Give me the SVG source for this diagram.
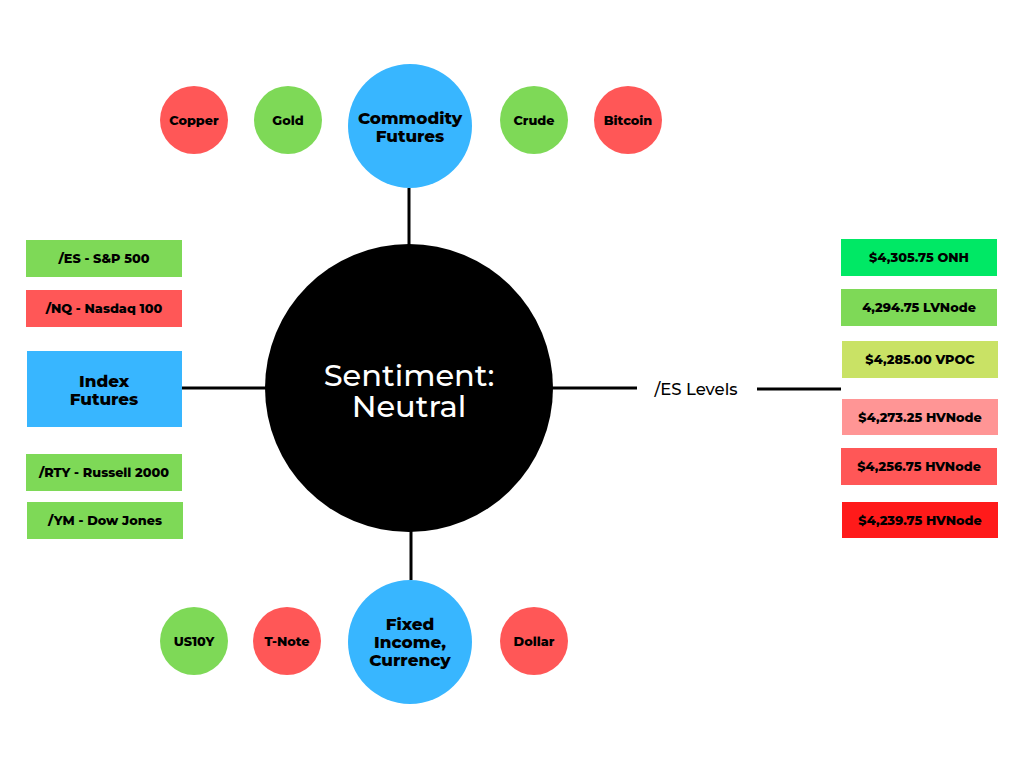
<svg xmlns="http://www.w3.org/2000/svg" width="1024" height="768" viewBox="0 0 1024 768">
<style>
.b{font-family:Montserrat,"Open Sans",sans-serif;font-weight:800;fill:#000;text-anchor:middle}
.s{font-size:12.8px}
.m{font-size:16.8px}
.g{fill:#7ED957}.r{fill:#FF5757}.bl{fill:#38B6FF}
.ln{stroke:#000;stroke-width:3;fill:none}
</style>
<rect width="1024" height="768" fill="#fff"/>
<g id="connectors">
<line class="ln" x1="409" y1="188" x2="409" y2="246"/>
<line class="ln" x1="182" y1="388" x2="266" y2="388"/>
<line class="ln" x1="411" y1="531" x2="411" y2="580"/>
<line class="ln" x1="552" y1="388" x2="637" y2="388"/>
<line class="ln" x1="757" y1="389" x2="841" y2="389"/>
</g>
<g id="center">
<circle cx="409" cy="388" r="144" fill="#000"/>
<text x="409" y="386" font-family="Montserrat,'Open Sans',sans-serif" font-weight="500" font-size="30.5" fill="#fff" text-anchor="middle">Sentiment:</text>
<text x="409" y="417" font-family="Montserrat,'Open Sans',sans-serif" font-weight="500" font-size="30.5" fill="#fff" text-anchor="middle">Neutral</text>
</g>
<g id="commodity">
<circle class="bl" cx="410" cy="126" r="62"/>
<text class="b m" x="410" y="124">Commodity</text>
<text class="b m" x="410" y="142">Futures</text>
</g>
<g id="copper"><circle class="r" cx="194" cy="120" r="34"/><text class="b s" x="194" y="124.5">Copper</text></g>
<g id="gold"><circle class="g" cx="288" cy="120" r="34"/><text class="b s" x="288" y="124.5">Gold</text></g>
<g id="crude"><circle class="g" cx="534" cy="120" r="34"/><text class="b s" x="534" y="124.5">Crude</text></g>
<g id="bitcoin"><circle class="r" cx="628" cy="120" r="34"/><text class="b s" x="628" y="124.5">Bitcoin</text></g>
<g id="index">
<rect class="bl" x="27" y="351" width="155" height="76"/>
<text class="b m" x="104" y="387">Index</text>
<text class="b m" x="104" y="405">Futures</text>
</g>
<g id="es"><rect class="g" x="26" y="240" width="156" height="37"/><text class="b s" x="104" y="263">/ES - S&amp;P 500</text></g>
<g id="nq"><rect class="r" x="26" y="290" width="156" height="37"/><text class="b s" x="104" y="313">/NQ - Nasdaq 100</text></g>
<g id="rty"><rect class="g" x="26" y="454" width="156" height="37"/><text class="b s" x="104" y="477">/RTY - Russell 2000</text></g>
<g id="ym"><rect class="g" x="27" y="502" width="156" height="37"/><text class="b s" x="105" y="525">/YM - Dow Jones</text></g>
<g id="eslevels"><text x="696" y="395" font-family="Montserrat,'Open Sans',sans-serif" font-weight="500" font-size="16.5" text-anchor="middle" fill="#000">/ES Levels</text></g>
<g id="onh"><rect x="841" y="239" width="156" height="37" fill="#00E865"/><text class="b s" x="919" y="262">$4,305.75 ONH</text></g>
<g id="lvnode"><rect class="g" x="841" y="289" width="156" height="37"/><text class="b s" x="919" y="312">4,294.75 LVNode</text></g>
<g id="vpoc"><rect x="842" y="341" width="156" height="37" fill="#C9E265"/><text class="b s" x="920" y="364">$4,285.00 VPOC</text></g>
<g id="hv1"><rect x="842" y="399" width="156" height="36" fill="#FF9595"/><text class="b s" x="920" y="422">$4,273.25 HVNode</text></g>
<g id="hv2"><rect class="r" x="841" y="448" width="156" height="37"/><text class="b s" x="919" y="471">$4,256.75 HVNode</text></g>
<g id="hv3"><rect x="842" y="502" width="156" height="36" fill="#FF1A1A"/><text class="b s" x="920" y="525">$4,239.75 HVNode</text></g>
<g id="fixed">
<circle class="bl" cx="410" cy="642" r="62"/>
<text class="b m" x="410" y="630">Fixed</text>
<text class="b m" x="410" y="648">Income,</text>
<text class="b m" x="410" y="666">Currency</text>
</g>
<g id="us10y"><circle class="g" cx="194" cy="641" r="34"/><text class="b s" x="194" y="645.5">US10Y</text></g>
<g id="tnote"><circle class="r" cx="287" cy="641" r="34"/><text class="b s" x="287" y="645.5">T-Note</text></g>
<g id="dollar"><circle class="r" cx="534" cy="641" r="34"/><text class="b s" x="534" y="645.5">Dollar</text></g>
</svg>
